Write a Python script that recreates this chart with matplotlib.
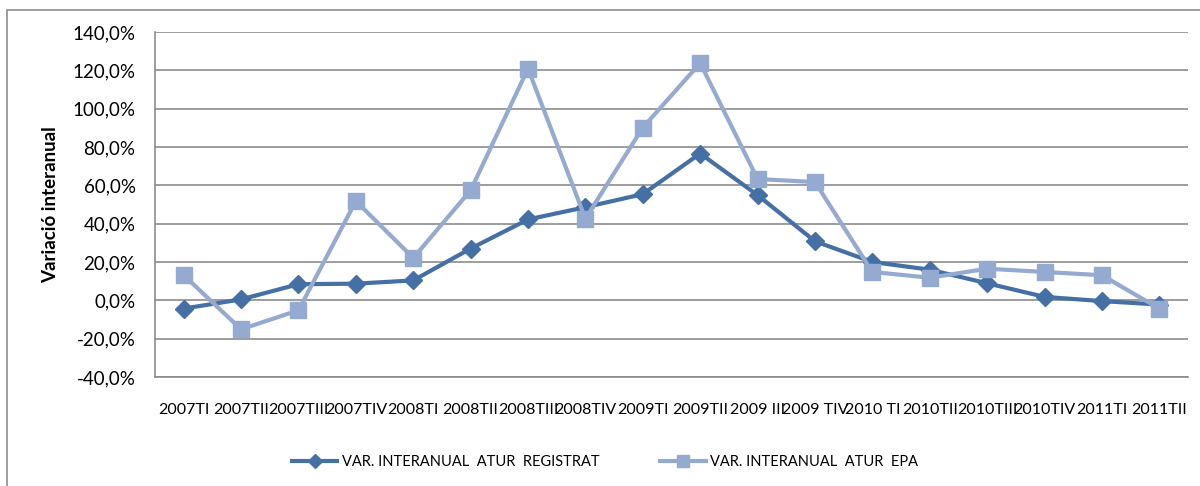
import matplotlib
matplotlib.use("Agg")
import matplotlib.pyplot as plt
from matplotlib.patches import Rectangle
from matplotlib.ticker import FuncFormatter

plt.rcParams['font.family'] = ['Lato', 'DejaVu Sans']

quarters = ["2007TI", "2007TII", "2007TIII", "2007TIV", "2008TI", "2008TII",
            "2008TIII", "2008TIV", "2009TI", "2009TII", "2009 III", "2009 TIV",
            "2010 TI", "2010TII", "2010TIII", "2010TIV", "2011TI", "2011TII"]
atur_registrat = [-4.3, 0.5, 8.4, 8.7, 10.4, 27.0, 42.2, 48.6, 55.4, 76.6,
                  54.9, 30.8, 20.0, 16.0, 8.9, 1.8, -0.4, -2.2]
atur_epa = [13.1, -15.1, -5.2, 51.8, 22.1, 57.4, 120.9, 42.6, 90.1, 123.8,
            63.3, 61.7, 14.8, 11.8, 16.5, 14.8, 13.1, -4.3]
label_registrat = "VAR. INTERANUAL  ATUR  REGISTRAT"
label_epa = "VAR. INTERANUAL  ATUR  EPA"

dark = "#4470A6"
light = "#94AAD0"
grid = "#8C8C8C"

fig = plt.figure(figsize=(12, 4.86), dpi=100)
fig.patches.append(Rectangle((7 / 1200, -0.05), 1.1, (486 - 10) / 486 + 0.05,
                             transform=fig.transFigure, fill=False,
                             edgecolor="#8C8C8C", linewidth=1.2))
ax = fig.add_axes([155 / 1200, 109 / 486, 1033 / 1200, 345 / 486])

x = range(len(quarters))
ax.plot(x, atur_registrat, color=dark, lw=3, marker="D", ms=9,
        label=label_registrat, zorder=3)
ax.plot(x, atur_epa, color=light, lw=3, marker="s", ms=11,
        label=label_epa, zorder=4)

ax.set_xlim(-0.5, len(quarters) - 0.5)
ax.set_ylim(-40, 140)
ax.set_yticks(range(-40, 141, 20))
ax.yaxis.set_major_formatter(FuncFormatter(lambda v, p: f"{v:.1f}%".replace(".", ",")))
ax.set_xticks(list(x))
ax.set_xticklabels(quarters)
ax.tick_params(axis="x", length=0, pad=19, labelsize=11.5)
ax.tick_params(axis="y", length=0, pad=14, labelsize=13.5)
ax.grid(axis="y", color=grid, lw=1.2)
ax.set_axisbelow(True)
for s in ["top", "right"]:
    ax.spines[s].set_visible(False)
for s in ["left", "bottom"]:
    ax.spines[s].set_color(grid)
    ax.spines[s].set_linewidth(1.2)

ax.set_ylabel("Variació interanual", fontsize=13.5, fontweight="bold", labelpad=10)

fig.legend(loc="center", bbox_to_anchor=(605 / 1200, 24 / 486), ncol=2, frameon=False,
           fontsize=10.5, handlelength=3.1, columnspacing=4.2, handletextpad=0.3,
           markerscale=0.75)

fig.savefig("out.png", dpi=100)
